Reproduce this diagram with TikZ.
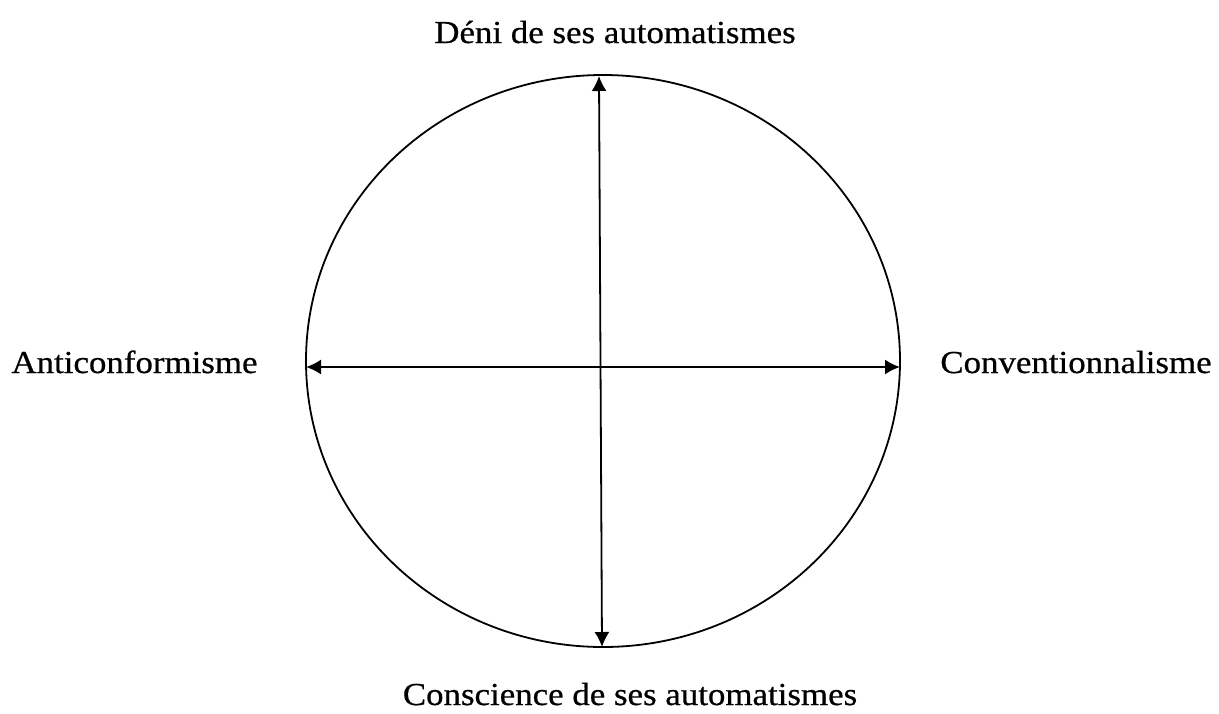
\documentclass[tikz,border=0pt]{standalone}
\usepackage{fontspec}
\setmainfont{Liberation Serif}[FakeStretch=1.09,FakeBold=0.6]
\usetikzlibrary{arrows.meta}
\begin{document}
\begin{tikzpicture}[x=1pt,y=-1pt,
  lbl/.style={inner sep=0pt,font=\fontsize{32}{36}\selectfont,anchor=base},
  tip/.tip={Latex[length=15pt,width=15pt]},
  arr/.style={line width=1.8pt,tip-tip}]
\useasboundingbox (0,0) rectangle (1219,713);
\draw[line width=1.8pt] (603,361) ellipse [x radius=297, y radius=286];
\coordinate (t) at (599,76);
\coordinate (b) at (602,647);
\coordinate (l) at (306,367);
\coordinate (r) at (900,367);
\draw[arr] (b) -- (t);
\draw[arr] (l) -- (r);
\node[lbl] (deni) at (615,43) {Déni de ses automatismes};
\node[lbl] (consc) at (630,705) {Conscience de ses automatismes};
\node[lbl] (anti) at (134.5,373) {Anticonformisme};
\node[lbl] (conv) at (1076,373) {Conventionnalisme};
\end{tikzpicture}
\end{document}
